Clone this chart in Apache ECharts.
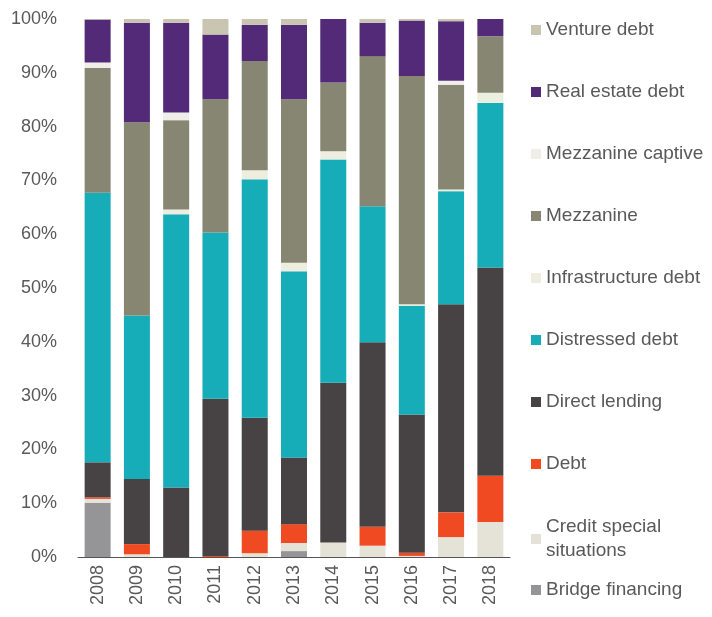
<!DOCTYPE html>
<html>
<head>
<meta charset="utf-8">
<script src="https://cdn.jsdelivr.net/npm/echarts@6/dist/echarts.min.js"></script>
<style>
	html, body { margin: 0; padding: 0; background: #fff; }
	#chart { width: 712px; height: 617px; }
</style>
</head>
<body>
<div id="chart"></div>
<script>
	var years = ['2008','2009','2010','2011','2012','2013','2014','2015','2016','2017','2018'];
	var yTicks = [0,10,20,30,40,50,60,70,80,90,100];

	// shares in %, stacked from bottom to top
	var bridgeFinancing = [10.1, 0, 0, 0, 0, 1.1, 0, 0, 0, 0, 0];
	var creditSpecial = [0.7, 0.5, 0, 0, 0.7, 1.5, 2.7, 2.1, 0.2, 3.7, 6.5];
	var debt = [0.3, 1.9, 0, 0.2, 4.2, 3.5, 0, 3.5, 0.6, 4.6, 8.6];
	var directLending = [6.5, 12.1, 12.9, 29.2, 21.0, 12.4, 29.7, 34.3, 25.7, 38.7, 38.7];
	var distressedDebt = [50.1, 30.4, 50.8, 30.9, 44.3, 34.6, 41.5, 25.3, 20.2, 21.0, 30.6];
	var infrastructureDebt = [0, 0, 0.9, 0, 1.7, 1.6, 1.5, 0, 0.3, 0.3, 1.9];
	var mezzanine = [23.2, 35.9, 16.6, 24.8, 20.3, 30.4, 12.8, 27.9, 42.4, 19.5, 10.5];
	var mezzanineCaptive = [1.0, 0, 1.4, 0, 0, 0, 0, 0, 0, 0.7, 0];
	var realEstateDebt = [8.0, 18.5, 16.7, 12.0, 6.7, 13.8, 11.8, 6.2, 10.3, 11.1, 3.2];
	var ventureDebt = [0.1, 0.7, 0.7, 2.9, 1.1, 1.1, 0, 0.7, 0.3, 0.4, 0];

	var seriesNames = ['Bridge financing','Credit special situations','Debt','Direct lending','Distressed debt',
		'Infrastructure debt','Mezzanine','Mezzanine captive','Real estate debt','Venture debt'];
	var seriesData = [bridgeFinancing, creditSpecial, debt, directLending, distressedDebt,
		infrastructureDebt, mezzanine, mezzanineCaptive, realEstateDebt, ventureDebt];
	var colors = ['#959597','#e5e3d8','#f04a23','#474244','#16adb8',
		'#eeeee0','#878672','#efeee9','#532a78','#c9c5b0'];

	var font = 'Liberation Sans';
	var textColor = '#595959';

	function buildSeries(){
		var list = [];
		for (var i = 0; i < seriesNames.length; i++) {
			list.push({
				name: seriesNames[i],
				type: 'bar',
				stack: 'total',
				barWidth: 26,
				data: seriesData[i],
				itemStyle: { color: colors[i] },
				emphasis: { disabled: true }
			});
		}
		return list;
	}

	//图例: one block per item so the spacing matches
	function buildLegends(){
		var tops = [578, 515, 452, 390, 328, 266, 204, 142, 80, 18];
		var list = [];
		for (var i = 0; i < seriesNames.length; i++) {
			list.push({
				data: [seriesNames[i]],
				left: 531,
				top: tops[i],
				padding: 0,
				icon: 'rect',
				itemWidth: 10,
				itemHeight: 10,
				selectedMode: false,
				formatter: function(name){
					return name == 'Credit special situations' ? 'Credit special\nsituations' : name;
				},
				textStyle: { fontFamily: font, fontSize: 19, color: textColor, lineHeight: 24 }
			});
		}
		return list;
	}

	var option = {
		animation: false,
		color: colors,
		grid: { left: 78, right: 202, top: 19, bottom: 60 },
		legend: buildLegends(),
		xAxis: {
			type: 'category',
			data: years,
			axisTick: { show: false },
			axisLine: { lineStyle: { color: '#555', width: 1 } },
			axisLabel: { rotate: 90, fontFamily: font, fontSize: 18, color: textColor, margin: 8 }
		},
		yAxis: {
			type: 'value',
			min: yTicks[0],
			max: yTicks[yTicks.length - 1],
			interval: 10,
			splitLine: { show: false },
			axisLine: { show: false },
			axisTick: { show: false },
			axisLabel: { formatter: '{value}%', fontFamily: font, fontSize: 18, color: textColor, margin: 21 }
		},
		series: buildSeries()
	};

	var chart = echarts.init(document.getElementById('chart'));
	chart.setOption(option);
</script>
</body>
</html>
